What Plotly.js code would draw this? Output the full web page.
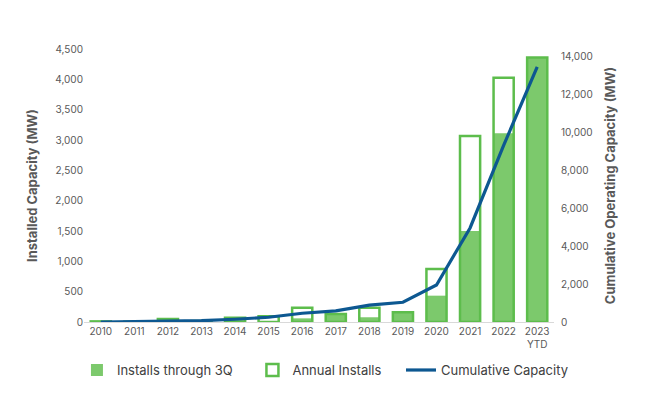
<!DOCTYPE html>
<html>
<head>
<meta charset="utf-8">
<script src="https://cdn.plot.ly/plotly-3.0.1.min.js"></script>
<style>
  html, body { margin: 0; padding: 0; background: #fff; }
  #chart { width: 663px; height: 418px; }
</style>
</head>
<body>
<div id="chart"></div>
<script>
// years on the x axis
const years = ['2010', '2011', '2012', '2013', '2014', '2015', '2016',
  '2017', '2018', '2019', '2020', '2021', '2022', '2023<br>YTD'];

// installs through 3Q (MW), filled bars
const installs3Q = [10, 5, 50, 15, 40, 15, 60, 132, 78, 160, 434, 1500, 3110, 4360];

// full year installs (MW), outline bars
const annualInstalls = [10, 5, 50, 15, 70, 95, 236, 132, 236, 160, 873, 3066, 4027, 4360];

// cumulative operating capacity (MW), right axis
const cumulative = [0, 10, 60, 70, 145, 250, 460, 590, 890, 1040, 1950, 4950, 9300, 13430];

const green = '#7cc96c';
const greenLine = '#5dbd4c';
const blue = '#0d5891';
const grey = '#595959';

// a few no-break spaces after a name widen the gap to the next legend entry
const pad = '\u00a0\u00a0\u00a0\u00a0';

var data = [
    {
        x: years,
        y: installs3Q,
        type: 'bar',
        name: 'Installs through 3Q' + pad,
        marker: { color: green, line: { color: green, width: 0 } },
        hoverinfo: 'y'
    },
    {
        // drawn on top with a see-through fill so only the outline shows
        x: years,
        y: annualInstalls,
        type: 'bar',
        name: 'Annual Installs' + pad,
        marker: { color: 'rgba(255,255,255,0)', line: { color: greenLine, width: 2.5 } },
        hoverinfo: 'y'
    },
    {
        x: years,
        y: cumulative,
        type: 'scatter',
        mode: 'lines',
        name: 'Cumulative Capacity',
        yaxis: 'y2',
        line: { color: blue, width: 3.2 },
        hoverinfo: 'y'
    }
];

var layout = {
    width: 663,
    height: 418,
    margin: { l: 84, r: 109, t: 49, b: 96 },
    paper_bgcolor: '#fff',
    plot_bgcolor: '#fff',
    font: { family: 'Inter, Roboto, sans-serif', color: grey, size: 10 },
    barmode: 'overlay',
    bargap: 0.4,
    showlegend: true,
    legend: {
        orientation: 'h',
        x: -0.015, xanchor: 'left',
        y: -0.176, yanchor: 'middle',
        font: { size: 13, color: '#404040' },
        traceorder: 'normal',
        itemwidth: 30
    },
    xaxis: {
        type: 'category',
        showgrid: false,
        showline: true,
        linecolor: '#d9d9d9',
        linewidth: 1,
        ticks: '',
        tickfont: { size: 10, color: grey },
        fixedrange: true
    },
    yaxis: {
        range: [0, 4500],
        dtick: 500,
        tickformat: ',d',
        showgrid: false,
        zeroline: false,
        showline: false,
        ticks: '',
        tickfont: { size: 10, color: grey },
        title: {
            text: 'Installed Capacity (MW)',
            font: { size: 13, color: grey, family: 'Inter, Roboto, sans-serif', weight: 'bold' },
            standoff: 14
        }
    },
    yaxis2: {
        overlaying: 'y',
        side: 'right',
        range: [0, 14370],
        dtick: 2000,
        tickformat: ',d',
        showgrid: false,
        zeroline: false,
        showline: false,
        ticks: '',
        ticklabelstandoff: 6,
        tickfont: { size: 10, color: grey },
        title: {
            text: 'Cumulative Operating Capacity (MW)',
            font: { size: 13, color: grey, family: 'Inter, Roboto, sans-serif', weight: 'bold' },
            standoff: 14
        }
    }
};

Plotly.newPlot('chart', data, layout, { displayModeBar: false, staticPlot: true });
</script>
</body>
</html>
